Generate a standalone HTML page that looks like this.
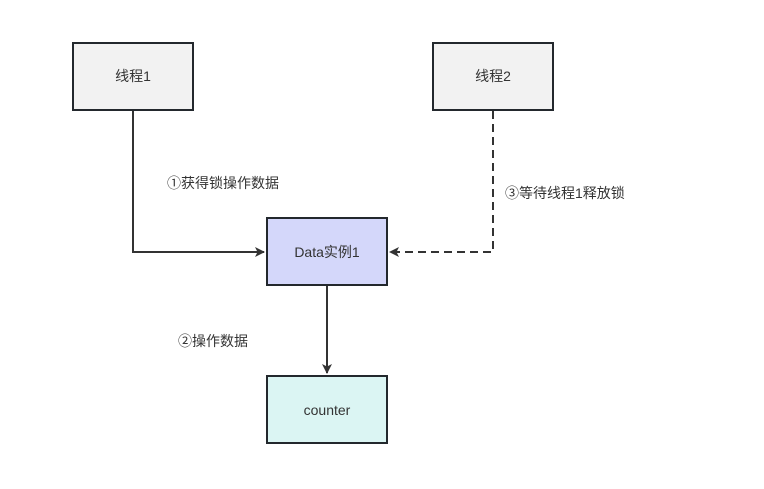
<!DOCTYPE html>
<html><head><meta charset="utf-8"><style>
html,body{margin:0;padding:0;background:#fff;}
svg text{font-family:"Liberation Sans","Noto Sans CJK SC",sans-serif;font-size:14px;fill:#333;}
</style></head><body>
<svg width="764" height="484" viewBox="0 0 764 484" xmlns="http://www.w3.org/2000/svg">
<defs>
<marker id="a" markerWidth="10" markerHeight="10" refX="9" refY="5" orient="auto" markerUnits="userSpaceOnUse">
<path d="M0,0 L10,5 L0,10 L2.5,5 Z" fill="#333"/>
</marker>
</defs>
<g stroke="#23282d" stroke-width="2">
<rect x="73" y="43" width="120" height="67" fill="#f2f2f2"/>
<rect x="433" y="43" width="120" height="67" fill="#f2f2f2"/>
<rect x="267" y="218" width="120" height="67" fill="#d4d7fa"/>
<rect x="267" y="376" width="120" height="67" fill="#dbf5f3"/>
</g>
<g stroke="#333" stroke-width="2" fill="none">
<path d="M133,111 V252 H264" marker-end="url(#a)"/>
<path d="M493,111 V252 H390" stroke-dasharray="8,5" marker-end="url(#a)"/>
<path d="M327,286 V373" marker-end="url(#a)"/>
</g>
<g text-anchor="middle">
<text x="133" y="81">线程1</text>
<text x="493" y="81">线程2</text>
<text x="327" y="257">Data实例1</text>
<text x="327" y="415">counter</text>
</g>
<text x="167" y="188">①获得锁操作数据</text>
<text x="505" y="198">③等待线程1释放锁</text>
<text x="178" y="346">②操作数据</text>
</svg>
</body></html>
